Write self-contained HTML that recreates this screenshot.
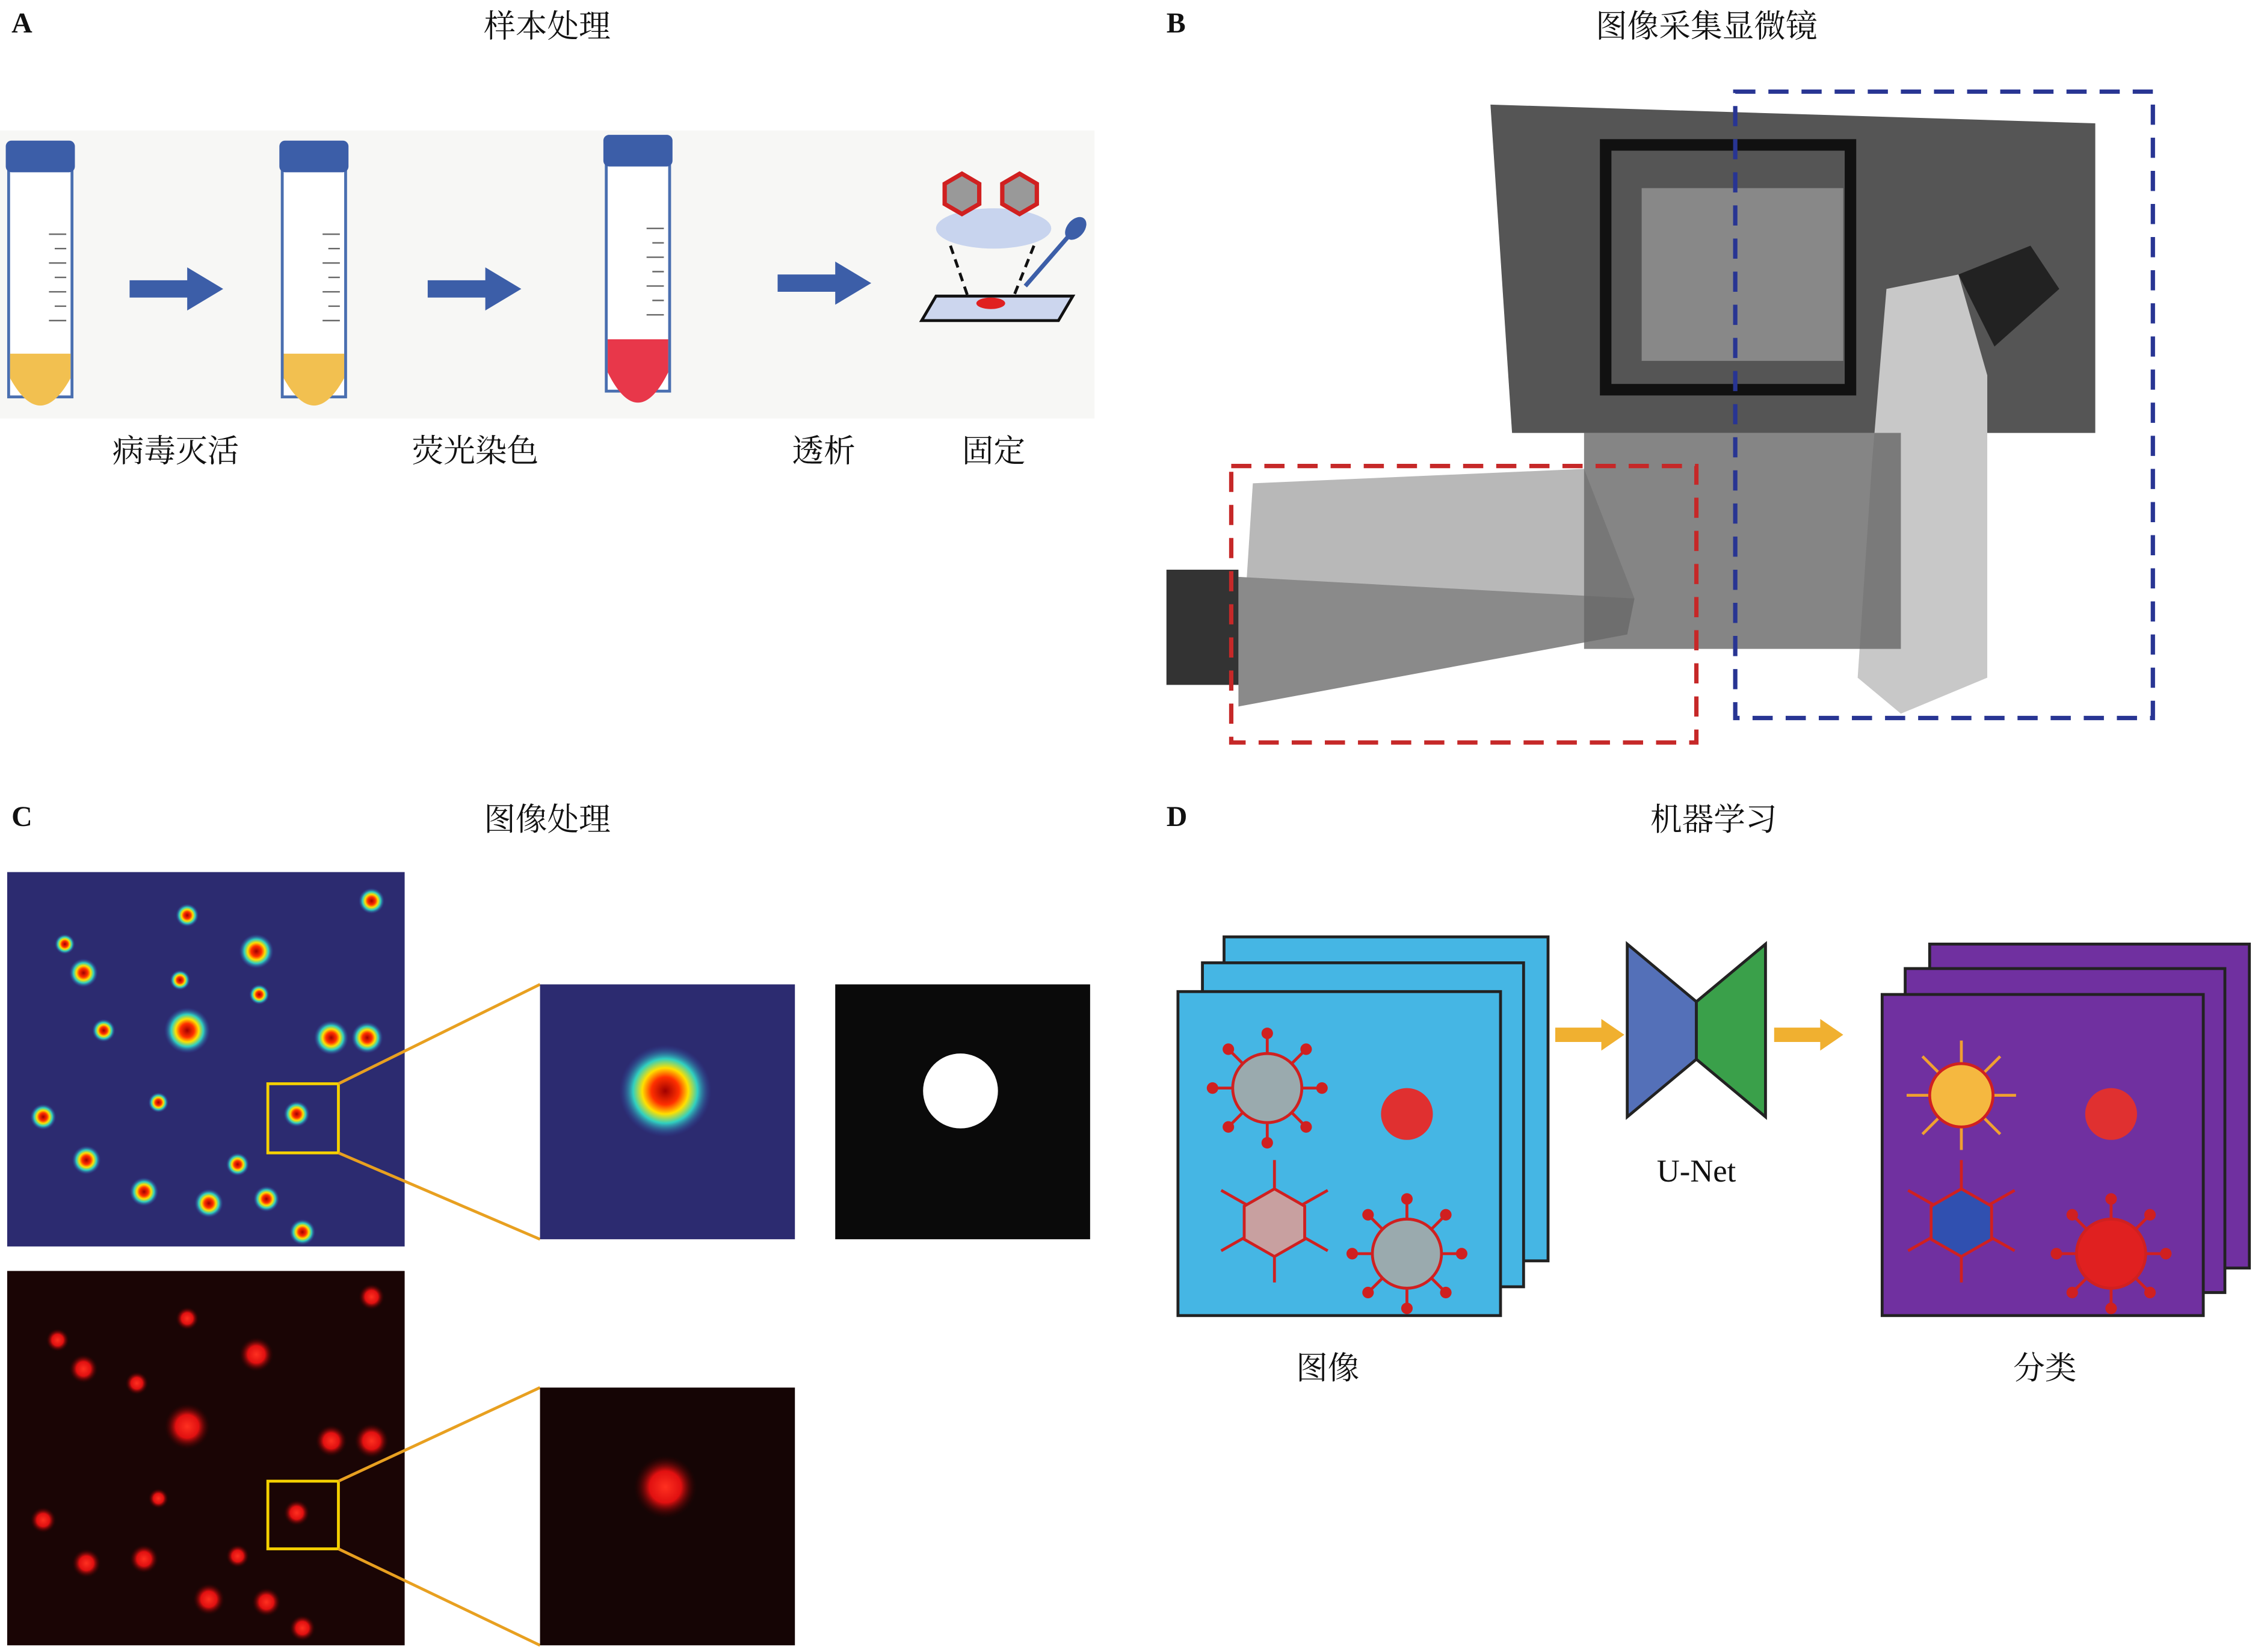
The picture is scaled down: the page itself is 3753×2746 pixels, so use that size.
<!DOCTYPE html>
<html><head><meta charset="utf-8"><style>
html,body{margin:0;padding:0;background:#fff}
svg{display:block}
text{font-family:"Liberation Serif","Noto Serif CJK SC","Noto Sans CJK SC",serif;fill:#111}
</style></head><body>
<svg width="3753" height="2746" viewBox="0 0 1568 1146" xmlns="http://www.w3.org/2000/svg">
<defs>
<radialGradient id="hs"><stop offset="0" stop-color="#a00000"/><stop offset="0.3" stop-color="#ff3000"/><stop offset="0.5" stop-color="#ffe000"/><stop offset="0.7" stop-color="#30d0c0"/><stop offset="1" stop-color="#3040a0" stop-opacity="0"/></radialGradient>
<radialGradient id="rs"><stop offset="0" stop-color="#ff3020"/><stop offset="0.5" stop-color="#e01010"/><stop offset="1" stop-color="#300000" stop-opacity="0"/></radialGradient>
<g id="tube"><rect x="0" y="8" width="44" height="170" fill="#fff" stroke="#4a6fb0" stroke-width="2"/><rect x="-2" y="0" width="48" height="22" rx="4" fill="#3c5ea8"/><g stroke="#666" stroke-width="1"><line x1="28" y1="65" x2="40" y2="65"/><line x1="32" y1="75" x2="40" y2="75"/><line x1="28" y1="85" x2="40" y2="85"/><line x1="32" y1="95" x2="40" y2="95"/><line x1="28" y1="105" x2="40" y2="105"/><line x1="32" y1="115" x2="40" y2="115"/><line x1="28" y1="125" x2="40" y2="125"/></g></g>
<g id="arr"><polygon points="0,-6 40,-6 40,-15 65,0 40,15 40,6 0,6" fill="#3c5ea8"/></g>
<g id="vir"><g stroke="#d02020" stroke-width="2"><line x1="-38" y1="0" x2="38" y2="0"/><line x1="0" y1="-38" x2="0" y2="38"/><line x1="-27" y1="-27" x2="27" y2="27"/><line x1="-27" y1="27" x2="27" y2="-27"/></g><g fill="#d02020"><circle cx="-38" cy="0" r="4"/><circle cx="38" cy="0" r="4"/><circle cx="0" cy="-38" r="4"/><circle cx="0" cy="38" r="4"/><circle cx="-27" cy="-27" r="4"/><circle cx="27" cy="27" r="4"/><circle cx="-27" cy="27" r="4"/><circle cx="27" cy="-27" r="4"/></g></g>
</defs>
<!-- Panel A -->
<text x="8" y="22" font-size="20" font-weight="bold">A</text>
<text x="380" y="25" font-size="22" text-anchor="middle">样本处理</text>
<rect x="0" y="90" width="760" height="200" fill="#f7f7f5"/>
<use href="#tube" x="6" y="97"/><path d="M7,245 L49,245 L49,262 Q28,300 7,262Z" fill="#f2c050"/>
<use href="#tube" x="196" y="97"/><path d="M197,245 L239,245 L239,262 Q218,300 197,262Z" fill="#f2c050"/>
<use href="#tube" x="421" y="93"/><path d="M422,235 L464,235 L464,258 Q443,300 422,258Z" fill="#e8374a"/>
<use href="#arr" x="90" y="200"/><use href="#arr" x="297" y="200"/><use href="#arr" x="540" y="196"/>
<ellipse cx="690" cy="158" rx="40" ry="14" fill="#c8d4ee"/>
<polygon points="668,120 680,127 680,141 668,148 656,141 656,127" fill="#999" stroke="#d02020" stroke-width="3"/>
<polygon points="708,120 720,127 720,141 708,148 696,141 696,127" fill="#999" stroke="#d02020" stroke-width="3"/>
<line x1="660" y1="170" x2="672" y2="205" stroke="#111" stroke-width="2" stroke-dasharray="6 4"/>
<line x1="718" y1="170" x2="704" y2="205" stroke="#111" stroke-width="2" stroke-dasharray="6 4"/>
<polygon points="650,205 745,205 735,222 640,222" fill="#ccd6ee" stroke="#111" stroke-width="2"/>
<ellipse cx="688" cy="210" rx="10" ry="4" fill="#e02020"/>
<line x1="712" y1="198" x2="745" y2="160" stroke="#3c5ea8" stroke-width="3"/><ellipse cx="747" cy="158" rx="6" ry="9" fill="#3c5ea8" transform="rotate(40 747 158)"/>
<text x="122" y="320" font-size="22" text-anchor="middle">病毒灭活</text>
<text x="330" y="320" font-size="22" text-anchor="middle">荧光染色</text>
<text x="572" y="320" font-size="22" text-anchor="middle">透析</text>
<text x="690" y="320" font-size="22" text-anchor="middle">固定</text>
<!-- Panel B -->
<text x="810" y="22" font-size="20" font-weight="bold">B</text>
<text x="1185" y="25" font-size="22" text-anchor="middle">图像采集显微镜</text>
<polygon points="1035,72 1455,85 1455,300 1290,300 1050,300" fill="#555"/>
<rect x="1115" y="100" width="170" height="170" fill="none" stroke="#111" stroke-width="8"/>
<rect x="1140" y="130" width="140" height="120" fill="#888"/>
<path d="M1310,200 L1360,190 L1380,260 L1380,470 L1320,495 L1290,470 L1300,320Z" fill="#c8c8c8"/>
<path d="M1360,190 L1410,170 L1430,200 L1385,240Z" fill="#222"/>
<polygon points="870,335 1100,325 1135,415 860,490" fill="#b8b8b8"/>
<polygon points="860,400 1135,415 1130,440 860,490" fill="#8a8a8a"/>
<rect x="810" y="395" width="50" height="80" fill="#333"/>
<rect x="1100" y="300" width="220" height="150" fill="#666" opacity="0.8"/>
<rect x="855" y="323" width="323" height="192" fill="none" stroke="#c62828" stroke-width="3" stroke-dasharray="14 9"/>
<rect x="1205" y="63" width="290" height="435" fill="none" stroke="#283593" stroke-width="3" stroke-dasharray="14 9"/>
<!-- Panel C -->
<text x="8" y="573" font-size="20" font-weight="bold">C</text>
<text x="380" y="576" font-size="22" text-anchor="middle">图像处理</text>
<rect x="5" y="605" width="276" height="260" fill="#2c2b70"/>
<g fill="url(#hs)">
<circle cx="130" cy="715" r="16"/><circle cx="178" cy="660" r="12"/><circle cx="58" cy="675" r="10"/><circle cx="230" cy="720" r="12"/><circle cx="255" cy="720" r="11"/><circle cx="206" cy="773" r="9"/><circle cx="100" cy="827" r="10"/><circle cx="145" cy="835" r="10"/><circle cx="185" cy="832" r="9"/><circle cx="210" cy="855" r="9"/><circle cx="60" cy="805" r="10"/><circle cx="258" cy="625" r="9"/><circle cx="130" cy="635" r="8"/><circle cx="72" cy="715" r="8"/><circle cx="30" cy="775" r="9"/><circle cx="165" cy="808" r="8"/><circle cx="110" cy="765" r="7"/><circle cx="45" cy="655" r="7"/><circle cx="125" cy="680" r="7"/><circle cx="180" cy="690" r="7"/>
</g>
<rect x="186" y="752" width="49" height="48" fill="none" stroke="#f5d000" stroke-width="2"/>
<line x1="235" y1="752" x2="375" y2="683" stroke="#e8a020" stroke-width="2"/><line x1="235" y1="800" x2="375" y2="860" stroke="#e8a020" stroke-width="2"/>
<rect x="375" y="683" width="177" height="177" fill="#2c2b70"/>
<circle cx="462" cy="757" r="32" fill="url(#hs)"/>
<rect x="580" y="683" width="177" height="177" fill="#0a0a0a"/>
<circle cx="667" cy="757" r="26" fill="#fff"/>
<rect x="5" y="882" width="276" height="260" fill="#1a0505"/>
<g fill="url(#rs)">
<circle cx="130" cy="990" r="16"/><circle cx="178" cy="940" r="12"/><circle cx="58" cy="950" r="10"/><circle cx="230" cy="1000" r="11"/><circle cx="258" cy="1000" r="12"/><circle cx="206" cy="1050" r="9"/><circle cx="100" cy="1082" r="10"/><circle cx="145" cy="1110" r="11"/><circle cx="185" cy="1112" r="10"/><circle cx="210" cy="1130" r="9"/><circle cx="60" cy="1085" r="10"/><circle cx="258" cy="900" r="9"/><circle cx="130" cy="915" r="8"/><circle cx="30" cy="1055" r="9"/><circle cx="165" cy="1080" r="8"/><circle cx="110" cy="1040" r="7"/><circle cx="40" cy="930" r="8"/><circle cx="95" cy="960" r="8"/>
</g>
<rect x="186" y="1028" width="49" height="47" fill="none" stroke="#f5d000" stroke-width="2"/>
<line x1="235" y1="1028" x2="375" y2="963" stroke="#e8a020" stroke-width="2"/><line x1="235" y1="1075" x2="375" y2="1142" stroke="#e8a020" stroke-width="2"/>
<rect x="375" y="963" width="177" height="179" fill="#150505"/>
<circle cx="462" cy="1032" r="22" fill="url(#rs)"/>
<!-- Panel D -->
<text x="810" y="573" font-size="20" font-weight="bold">D</text>
<text x="1190" y="576" font-size="22" text-anchor="middle">机器学习</text>
<rect x="850" y="650" width="225" height="225" fill="#45b6e4" stroke="#222" stroke-width="2"/>
<rect x="835" y="668" width="223" height="225" fill="#45b6e4" stroke="#222" stroke-width="2"/>
<rect x="818" y="688" width="224" height="225" fill="#45b6e4" stroke="#222" stroke-width="2"/>
<use href="#vir" x="880" y="755"/><circle cx="880" cy="755" r="24" fill="#9aaaae" stroke="#d02020" stroke-width="2"/>
<circle cx="977" cy="773" r="18" fill="#e03030"/>
<g stroke="#d02020" stroke-width="2"><line x1="885" y1="805" x2="885" y2="890"/><line x1="848" y1="826" x2="922" y2="868"/><line x1="848" y1="868" x2="922" y2="826"/></g>
<polygon points="885,825 906,837 906,860 885,872 864,860 864,837" fill="#c8a0a0" stroke="#d02020" stroke-width="2"/>
<use href="#vir" x="977" y="870"/><circle cx="977" cy="870" r="24" fill="#9aaaae" stroke="#d02020" stroke-width="2"/>
<polygon points="1080,713 1112,713 1112,707 1128,718 1112,729 1112,723 1080,723" fill="#f0b030"/>
<polygon points="1130,655 1178,695 1178,735 1130,775" fill="#5470b8" stroke="#222" stroke-width="2"/>
<polygon points="1226,655 1178,695 1178,735 1226,775" fill="#3aa04a" stroke="#222" stroke-width="2"/>
<text x="1178" y="820" font-size="22" text-anchor="middle">U-Net</text>
<polygon points="1232,713 1264,713 1264,707 1280,718 1264,729 1264,723 1232,723" fill="#f0b030"/>
<rect x="1340" y="655" width="222" height="225" fill="#7030a0" stroke="#222" stroke-width="2"/>
<rect x="1323" y="672" width="222" height="225" fill="#7030a0" stroke="#222" stroke-width="2"/>
<rect x="1307" y="690" width="223" height="223" fill="#7030a0" stroke="#222" stroke-width="2"/>
<g transform="translate(1362 760)"><g stroke="#f0a030" stroke-width="2"><line x1="-38" y1="0" x2="38" y2="0"/><line x1="0" y1="-38" x2="0" y2="38"/><line x1="-27" y1="-27" x2="27" y2="27"/><line x1="-27" y1="27" x2="27" y2="-27"/></g><circle r="22" fill="#f5b840" stroke="#d02020" stroke-width="2"/></g>
<circle cx="1466" cy="773" r="18" fill="#e03030"/>
<g stroke="#d02020" stroke-width="2"><line x1="1362" y1="805" x2="1362" y2="890"/><line x1="1325" y1="826" x2="1399" y2="868"/><line x1="1325" y1="868" x2="1399" y2="826"/></g>
<polygon points="1362,825 1383,837 1383,860 1362,872 1341,860 1341,837" fill="#3050b0" stroke="#d02020" stroke-width="2"/>
<use href="#vir" x="1466" y="870"/><circle cx="1466" cy="870" r="24" fill="#e02020" stroke="#d02020" stroke-width="2"/>
<text x="922" y="957" font-size="22" text-anchor="middle">图像</text>
<text x="1420" y="957" font-size="22" text-anchor="middle">分类</text>
</svg>
</body></html>
